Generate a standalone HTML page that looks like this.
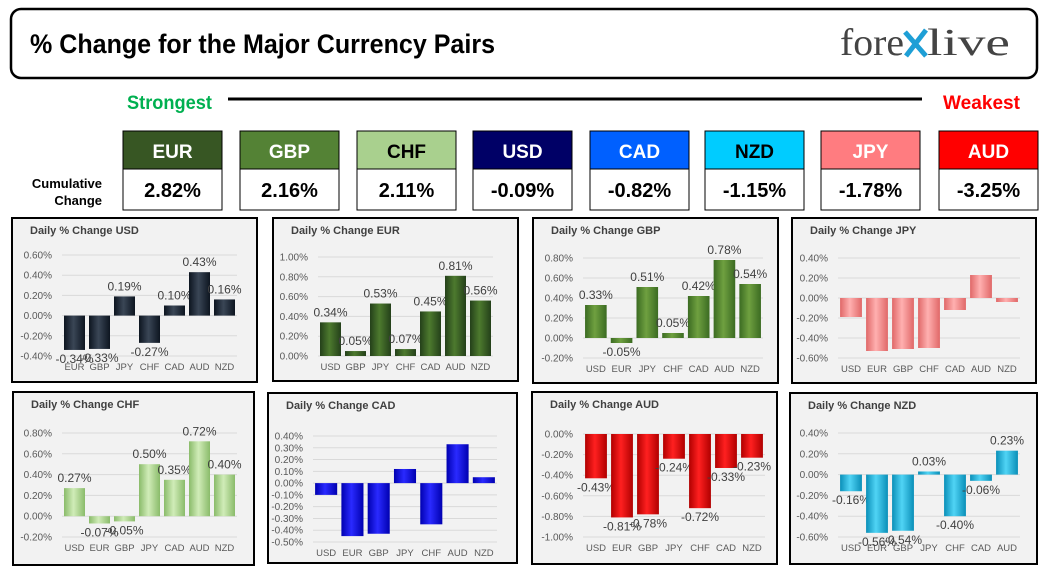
<!DOCTYPE html>
<html><head><meta charset="utf-8"><style>
body{margin:0;background:#fff;width:1048px;height:575px;overflow:hidden;font-family:"Liberation Sans",sans-serif}
.cond{font-family:"Liberation Sans Narrow","Liberation Sans",sans-serif;font-weight:bold}
</style></head><body>
<svg id="s" width="1048" height="575" xmlns="http://www.w3.org/2000/svg">
<defs id="defs"></defs>
<rect x="11" y="9" width="1026" height="69" rx="10" fill="#fff" stroke="#000" stroke-width="2.5"/>
<text x="30" y="53" class="cond" font-size="27" fill="#000" textLength="465" lengthAdjust="spacingAndGlyphs">% Change for the Major Currency Pairs</text>
<g>
<text x="840" y="55" font-family="Liberation Serif,serif" font-size="38" fill="#444" textLength="64" lengthAdjust="spacingAndGlyphs">fore</text>
<path d="M905 32 L926 56 M926 30 L906 56" stroke="#1e9fd6" stroke-width="5" fill="none"/>
<text x="927" y="55" font-family="Liberation Serif,serif" font-size="38" fill="#444" textLength="83" lengthAdjust="spacingAndGlyphs">live</text>
</g>
<text x="127" y="109" class="cond" font-size="19" fill="#00b050" textLength="85" lengthAdjust="spacingAndGlyphs">Strongest</text>
<line x1="228" y1="99" x2="922" y2="99" stroke="#000" stroke-width="3"/>
<text x="943" y="109" class="cond" font-size="19" fill="#ff0000" textLength="77" lengthAdjust="spacingAndGlyphs">Weakest</text>
<text x="102" y="188" class="cond" font-size="13" text-anchor="end">Cumulative</text>
<text x="102" y="205" class="cond" font-size="13" text-anchor="end">Change</text>
<g id="cards"></g>
<g id="panels"></g>
</svg>
<script>
const NS="http://www.w3.org/2000/svg";
const svg=document.getElementById('s');
function mk(t,a,p){const e=document.createElementNS(NS,t);for(const k in a)e.setAttribute(k,a[k]);(p||svg).appendChild(e);return e;}
const cardNames=["EUR","GBP","CHF","USD","CAD","NZD","JPY","AUD"];
const cardValues=["2.82%","2.16%","2.11%","-0.09%","-0.82%","-1.15%","-1.78%","-3.25%"];
const cardX=[123,240,357,473,590,705,821,939];
const cardBg=["#375623","#548235","#a9d08e","#000066","#0060ff","#00ccff","#ff7c80","#ff0000"];
const cardFg=["#fff","#fff","#000","#fff","#fff","#000","#fff","#fff"];
const cg=document.getElementById('cards');
cardNames.forEach((n,i)=>{
  const g=mk('g',{},cg);
  
  
  mk('rect',{x:cardX[i],y:131,width:99,height:38,fill:cardBg[i],stroke:'#000','stroke-width':1},g);
  mk('rect',{x:cardX[i],y:169,width:99,height:41,fill:'#fff',stroke:'#000','stroke-width':1},g);
  const t=mk('text',{x:cardX[i]+49.5,y:158,'text-anchor':'middle','font-size':19,fill:cardFg[i],class:'cond'},g);t.textContent=n;
  const v=mk('text',{x:cardX[i]+49.5,y:197,'text-anchor':'middle','font-size':20,fill:'#000',class:'cond'},g);v.textContent=cardValues[i];
});
const usdCats=["EUR","GBP","JPY","CHF","CAD","AUD","NZD"];
const usdVals=[-0.34,-0.33,0.19,-0.27,0.10,0.43,0.16];
const eurCats=["USD","GBP","JPY","CHF","CAD","AUD","NZD"];
const eurVals=[0.34,0.05,0.53,0.07,0.45,0.81,0.56];
const gbpCats=["USD","EUR","JPY","CHF","CAD","AUD","NZD"];
const gbpVals=[0.33,-0.05,0.51,0.05,0.42,0.78,0.54];
const jpyCats=["USD","EUR","GBP","CHF","CAD","AUD","NZD"];
const jpyVals=[-0.19,-0.53,-0.51,-0.50,-0.12,0.23,-0.04];
const chfCats=["USD","EUR","GBP","JPY","CAD","AUD","NZD"];
const chfVals=[0.27,-0.07,-0.05,0.50,0.35,0.72,0.40];
const cadCats=["USD","EUR","GBP","JPY","CHF","AUD","NZD"];
const cadVals=[-0.10,-0.45,-0.43,0.12,-0.35,0.33,0.05];
const audCats=["USD","EUR","GBP","JPY","CHF","CAD","NZD"];
const audVals=[-0.43,-0.81,-0.78,-0.24,-0.72,-0.33,-0.23];
const nzdCats=["USD","EUR","GBP","JPY","CHF","CAD","AUD"];
const nzdVals=[-0.16,-0.56,-0.54,0.03,-0.40,-0.06,0.23];
const usdTicks=[0.6,-0.4], eurTicks=[1.0,0], gbpTicks=[0.8,-0.2], jpyTicks=[0.4,-0.6];
const chfTicks=[0.8,-0.2], cadTicks=[0.4,-0.5], audTicks=[0,-1.0], nzdTicks=[0.4,-0.6];

const panels=[
 {n:'USD',cats:usdCats,vals:usdVals,tk:usdTicks,step:0.2,box:[12,218,245,164],pl:62,pr:237,pt:255,pb:356,col:['#0d1520','#3a4656'],lab:true},
 {n:'EUR',cats:eurCats,vals:eurVals,tk:eurTicks,step:0.2,box:[273,218,245,163],pl:318,pr:493,pt:257,pb:356,col:['#24401a','#4d7a2e'],lab:true},
 {n:'GBP',cats:gbpCats,vals:gbpVals,tk:gbpTicks,step:0.2,box:[533,218,245,165],pl:583,pr:763,pt:258,pb:358,col:['#3b6b22','#6fa040'],lab:true},
 {n:'JPY',cats:jpyCats,vals:jpyVals,tk:jpyTicks,step:0.2,box:[792,218,244,165],pl:838,pr:1020,pt:258,pb:358,col:['#e06868','#ffb0b0'],lab:false},
 {n:'CHF',cats:chfCats,vals:chfVals,tk:chfTicks,step:0.2,box:[13,392,241,173],pl:62,pr:237,pt:433,pb:537,col:['#8abb6a','#d0ecb8'],lab:true},
 {n:'CAD',cats:cadCats,vals:cadVals,tk:cadTicks,step:0.1,box:[268,393,249,170],pl:313,pr:497,pt:436,pb:542,col:['#0000b0','#2a2aff'],lab:false},
 {n:'AUD',cats:audCats,vals:audVals,tk:audTicks,step:0.2,box:[532,392,245,172],pl:583,pr:765,pt:434,pb:537,col:['#b00000','#ff2020'],lab:true},
 {n:'NZD',cats:nzdCats,vals:nzdVals,tk:nzdTicks,step:0.2,box:[790,393,247,171],pl:838,pr:1020,pt:433,pb:537,col:['#0a8fb8','#50d4f5'],lab:true},
];
const defs=document.getElementById('defs');
const pg=document.getElementById('panels');
panels.forEach(p=>{
  const gid='g'+p.n;
  const lg=mk('linearGradient',{id:gid,x1:0,y1:0,x2:1,y2:0},defs);
  mk('stop',{offset:'0',  'stop-color':p.col[0]},lg);
  mk('stop',{offset:'0.45','stop-color':p.col[1]},lg);
  mk('stop',{offset:'1',  'stop-color':p.col[0]},lg);
  const g=mk('g',{},pg);
  
  
  const [bx,by,bw,bh]=p.box;
  mk('rect',{x:bx,y:by,width:bw,height:bh,fill:'#f2f2f2',stroke:'#000','stroke-width':2},g);
  const tt=mk('text',{x:bx+18,y:by+16,'font-size':11,'font-weight':'bold',fill:'#404040'},g);
  
  
  tt.textContent='Daily % Change '+p.n;
  const ymax=p.tk[0], ymin=p.tk[1];
  const y=v=>p.pt+(ymax-v)/(ymax-ymin)*(p.pb-p.pt);
  const nt=Math.round((ymax-ymin)/p.step);
  for(let i=0;i<=nt;i++){
    const v=ymax-i*p.step;
    mk('line',{x1:p.pl,x2:p.pr,y1:y(v),y2:y(v),stroke:'#d9d9d9','stroke-width':1},g);
    const t=mk('text',{x:p.pl-10,y:y(v)+3.5,'text-anchor':'end','font-size':10,fill:'#595959'},g);
    
    
    t.textContent=(Math.abs(v)<1e-9?0:v).toFixed(2)+'%';
  }
  const cw=(p.pr-p.pl)/p.cats.length, bwid=cw*0.84;
  p.cats.forEach((c,i)=>{
    const v=p.vals[i], cx=p.pl+cw*(i+0.5);
    const y0=y(0), y1=y(v);
    const r=mk('rect',{x:cx-bwid/2,y:Math.min(y0,y1),width:bwid,height:Math.max(1,Math.abs(y1-y0)),fill:'url(#'+gid+')'},g);
    
    
    const ct=mk('text',{x:cx,y:p.pb+14,'text-anchor':'middle','font-size':9.5,fill:'#595959'},g);
    
    
    ct.textContent=c;
    if(p.lab){
      const lt=mk('text',{x:cx,y:v>=0?y1-6:y1+13,'text-anchor':'middle','font-size':12,fill:'#404040'},g);
      
      
      lt.textContent=v.toFixed(2)+'%';
    }
  });
});
</script>
</body></html>
